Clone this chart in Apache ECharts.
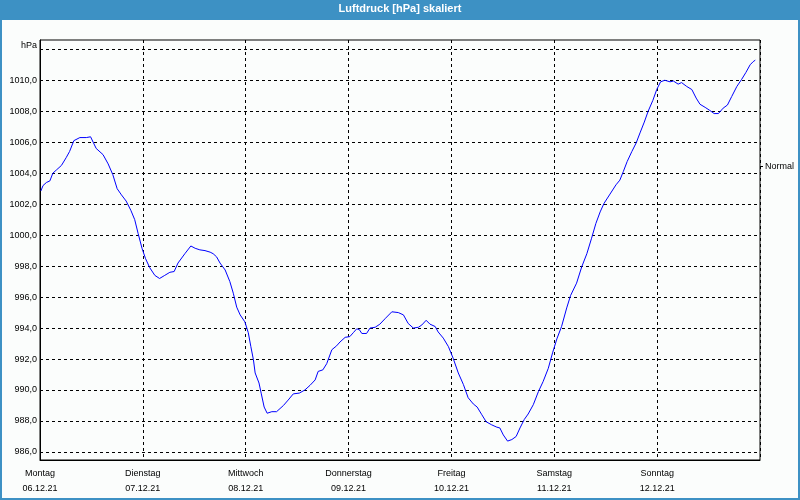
<!DOCTYPE html>
<html>
<head>
<meta charset="utf-8">
<script src="https://cdn.jsdelivr.net/npm/echarts@6/dist/echarts.min.js"></script>
<style>
  html, body { margin: 0; padding: 0; background: #fbfdfc; }
  #chart { width: 800px; height: 500px; }
</style>
</head>
<body>
<div id="chart"></div>
<script>
// ---- data ----
const chartTitle = 'Luftdruck [hPa] skaliert';
const dayNames = ['Montag', 'Dienstag', 'Mittwoch', 'Donnerstag', 'Freitag', 'Samstag', 'Sonntag'];
const dayDates = ['06.12.21', '07.12.21', '08.12.21', '09.12.21', '10.12.21', '11.12.21', '12.12.21'];
const yTickValues = [986, 988, 990, 992, 994, 996, 998, 1000, 1002, 1004, 1006, 1008, 1010, 1012];
const unitLabel = 'hPa';
const normalLevel = [1004.45];
const normalLabel = 'Normal';
// hours since 06.12.21 00:00
const hours = [
  0.2, 0.7, 1.5, 2.3, 3.0, 3.8, 5.0, 6.1, 6.9, 7.9, 9.3, 10.8, 11.8, 13.1, 14.7, 15.9, 17.0, 18.0, 19.0, 20.1,
  21.2, 22.1, 22.9, 23.8, 24.6, 25.6, 26.8, 27.9, 29.1, 30.3, 31.3, 32.2, 33.8, 35.2, 36.2, 37.3, 38.5, 39.7,
  40.4, 41.2, 42.0, 43.2, 44.3, 45.1, 45.9, 46.7, 47.8, 48.6, 49.2, 49.8, 50.2, 51.1, 51.6, 52.3, 53.0, 54.1,
  55.2, 56.8, 57.9, 59.1, 60.5, 61.8, 63.0, 64.2, 64.9, 66.0, 66.9, 68.1, 69.2, 70.0, 71.2, 72.3, 73.1, 73.9,
  74.5, 75.1, 76.2, 77.0, 78.2, 79.3, 80.5, 82.1, 83.6, 84.8, 85.9, 87.1, 88.3, 89.1, 90.1, 91.0, 92.2, 92.9,
  94.1, 95.3, 96.4, 97.6, 98.8, 99.9, 101.1, 102.0, 103.1, 104.1, 105.4, 106.6, 107.3, 108.1, 109.1, 110.1,
  111.1, 112.0, 113.0, 113.9, 115.1, 116.3, 117.4, 118.6, 119.6, 120.6, 121.7, 122.9, 123.8, 125.2, 126.4,
  127.6, 128.7, 129.7, 130.7, 131.6, 133.0, 134.4, 135.3, 136.1, 137.0, 138.1, 139.1, 140.0, 141.0, 141.9,
  143.0, 143.9, 144.8, 145.8, 147.0, 147.8, 148.9, 149.7, 150.9, 152.1, 153.1, 154.0, 155.2, 156.3, 157.3,
  158.3, 159.4, 160.4, 161.4, 162.6, 163.7, 164.7, 165.7, 166.4, 166.9
];
const pressure = [
  1002.85, 1003.2, 1003.4, 1003.5, 1004.0, 1004.2, 1004.5, 1005.0, 1005.4, 1006.1, 1006.3, 1006.3, 1006.35, 1005.6, 1005.2, 1004.6, 1003.9, 1003.0, 1002.6, 1002.2,
  1001.6, 1001.0, 1000.1, 999.15, 998.5, 997.9, 997.4, 997.2, 997.4, 997.6, 997.65, 998.2, 998.8, 999.3, 999.15, 999.05, 999.0, 998.9,
  998.8, 998.6, 998.2, 997.75, 997.0, 996.25, 995.35, 994.85, 994.4, 993.7, 992.8, 991.95, 991.1, 990.45, 989.8, 988.9, 988.5, 988.6,
  988.6, 989.0, 989.35, 989.75, 989.8, 990.0, 990.3, 990.65, 991.2, 991.3, 991.7, 992.6, 992.85, 993.1, 993.4, 993.45, 993.7, 993.95,
  993.9, 993.65, 993.65, 994.0, 994.05, 994.25, 994.6, 995.05, 995.0, 994.85, 994.3, 994.0, 994.05, 994.2, 994.5, 994.25, 994.1, 993.75,
  993.35, 992.8, 992.05, 991.1, 990.35, 989.5, 989.1, 988.9, 988.4, 987.95, 987.75, 987.6, 987.55, 987.1, 986.7, 986.8,
  987.0, 987.55, 988.1, 988.45, 989.05, 989.9, 990.55, 991.4, 992.4, 993.3, 994.1, 995.3, 996.1, 996.9, 997.95,
  998.8, 999.8, 1000.75, 1001.5, 1002.05, 1002.65, 1003.25, 1003.55, 1004.1, 1004.75, 1005.4, 1005.95, 1006.6, 1007.3, 1008.0,
  1008.7, 1009.4, 1009.9, 1010.0, 1009.9, 1009.95, 1009.75, 1009.85, 1009.6, 1009.4, 1008.85, 1008.45, 1008.25, 1008.05, 1007.85,
  1007.85, 1008.2, 1008.4, 1008.95, 1009.6, 1010.05, 1010.5, 1011.0, 1011.2, 1011.3
];

// ---- chart ----
const blue = '#3d91c4';
const font = '"Liberation Sans", Arial, sans-serif';
const chart = echarts.init(document.getElementById('chart'), null, { renderer: 'canvas' });
const seriesData = hours.map((h, i) => [h, pressure[i]]);

chart.setOption({
  animation: false,
  backgroundColor: '#fbfdfc',
  graphic: [
    { type: 'rect', shape: { x: 0, y: 0, width: 800, height: 20 }, style: { fill: blue }, z: -1 },
    { type: 'rect', shape: { x: 1, y: 1, width: 798, height: 498 }, style: { fill: null, stroke: blue, lineWidth: 2 }, z: 10 }
  ],
  title: {
    text: chartTitle,
    left: 'center',
    top: 3,
    padding: 0,
    textStyle: { color: '#fff', fontSize: 11, fontWeight: 'bold', fontFamily: font }
  },
  grid: {
    left: 40, right: 40, top: 40, bottom: 40,
    show: true, borderColor: '#000', borderWidth: 1, backgroundColor: 'transparent'
  },
  xAxis: {
    type: 'value',
    min: 0, max: 168, interval: 24,
    axisLine: { show: true, lineStyle: { color: '#000', width: 1 } },
    axisTick: { show: false },
    splitLine: { show: true, lineStyle: { color: '#000', type: [3, 3], width: 1 } },
    axisLabel: {
      showMaxLabel: false,
      margin: 6,
      color: '#000',
      fontSize: 9,
      fontFamily: font,
      lineHeight: 15,
      formatter: function (v) {
        const i = Math.round(v / 24);
        if (i < 0 || i >= dayNames.length) return '';
        return dayNames[i] + '\n' + dayDates[i];
      }
    }
  },
  yAxis: [
    {
      type: 'value',
      min: 985.48, max: 1012.6,
      axisLine: { show: true, lineStyle: { color: '#000', width: 1 } },
      axisTick: { show: false, customValues: yTickValues },
      splitLine: { show: true, lineStyle: { color: '#000', type: [3, 3], width: 1 } },
      axisLabel: {
        customValues: yTickValues,
        margin: 3,
        color: '#000',
        fontSize: 9,
        fontFamily: font,
        formatter: function (v) {
          if (v === yTickValues[yTickValues.length - 1]) return '{u|' + unitLabel + '}';
          return v.toFixed(1).replace('.', ',');
        },
        rich: { u: { fontSize: 9, fontFamily: font, color: '#000', padding: [0, 0, 8, 0] } }
      }
    },
    {
      type: 'value',
      position: 'right',
      min: 985.48, max: 1012.6,
      axisLine: { show: false },
      axisTick: { show: true, length: 3, customValues: normalLevel, lineStyle: { color: '#000' } },
      splitLine: { show: false },
      axisLabel: {
        customValues: normalLevel,
        margin: 5,
        color: '#000',
        fontSize: 9,
        fontFamily: font,
        formatter: function () { return normalLabel; }
      }
    }
  ],
  series: [{
    type: 'line',
    data: seriesData,
    showSymbol: false,
    symbol: 'none',
    smooth: false,
    lineStyle: { color: '#0000ff', width: 1 },
    itemStyle: { color: '#0000ff' }
  }]
});
</script>
</body>
</html>
